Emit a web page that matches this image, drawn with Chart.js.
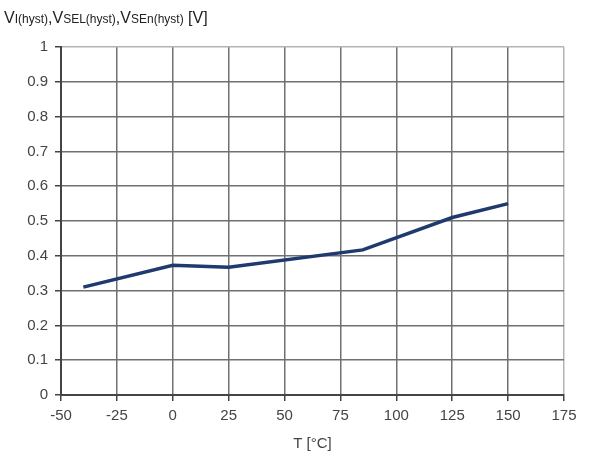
<!DOCTYPE html>
<html>
<head>
<meta charset="utf-8">
<script src="https://cdn.jsdelivr.net/npm/chart.js@4/dist/chart.umd.min.js"></script>
<style>
  body { margin: 0; background: #fff; font-family: "Liberation Sans", Arial, sans-serif; }
  #wrap { position: relative; width: 590px; height: 457px; }
  #titulo { position: absolute; left: 4px; top: 9px; font-size: 16px; color: #222; white-space: nowrap; }
  #titulo small { font-size: 12px; }
</style>
</head>
<body>
<div id="wrap">
  <div id="titulo">V<small>I(hyst)</small>,V<small>SEL(hyst)</small>,V<small>SEn(hyst)</small> [V]</div>
  <canvas id="grafico" width="590" height="457"></canvas>
</div>
<script>
// ===============================
// DATOS
// ===============================
const temperaturas = [-40, 0, 25, 85, 125, 150];
const histeresis = [0.31, 0.373, 0.367, 0.417, 0.51, 0.55];
const ticksX = [-50, -25, 0, 25, 50, 75, 100, 125, 150, 175];
const ticksY = [0, 0.1, 0.2, 0.3, 0.4, 0.5, 0.6, 0.7, 0.8, 0.9, 1];

const puntos = temperaturas.map((t, i) => ({ x: t, y: histeresis[i] }));

// ===============================
// GRAFICO
// ===============================
const ctx = document.getElementById("grafico").getContext("2d");
new Chart(ctx, {
  type: "line",
  data: {
    datasets: [{
      data: puntos,
      borderColor: "#1f3a6e",
      borderWidth: 3.5,
      pointRadius: 0,
      tension: 0,
      fill: false
    }]
  },
  options: {
    responsive: false,
    animation: false,
    layout: { padding: { top: 47, right: 26, left: 0, bottom: 0 } },
    plugins: { legend: { display: false }, tooltip: { enabled: false } },
    scales: {
      x: {
        type: "linear",
        min: -50,
        max: 175,
        afterBuildTicks: (s) => { s.ticks = ticksX.map(v => ({ value: v })); },
        afterFit: (s) => { s.height = 62; },
        grid: {
          color: (c) => c.tick && c.tick.value === 175 ? "#b4b4b4" : "#707070",
          lineWidth: 1.5,
          tickLength: 6,
          tickColor: "#444"
        },
        border: { color: "#444", width: 2 },
        ticks: { color: "#444", font: { family: "Liberation Sans", size: 15 }, padding: 6, maxRotation: 0 },
        title: { display: true, text: "T [°C]", color: "#444", font: { family: "Liberation Sans", size: 15 }, padding: { top: 1 } }
      },
      y: {
        min: 0,
        max: 1,
        afterBuildTicks: (s) => { s.ticks = ticksY.map(v => ({ value: v })); },
        afterFit: (s) => { s.width = 61; },
        grid: {
          color: (c) => c.tick && c.tick.value === 1 ? "#b4b4b4" : "#707070",
          lineWidth: 1.5,
          tickLength: 6,
          tickColor: "#444"
        },
        border: { color: "#444", width: 2 },
        ticks: { color: "#444", font: { family: "Liberation Sans", size: 15 }, padding: 7, callback: (v) => String(v) }
      }
    }
  }
});
</script>
</body>
</html>
